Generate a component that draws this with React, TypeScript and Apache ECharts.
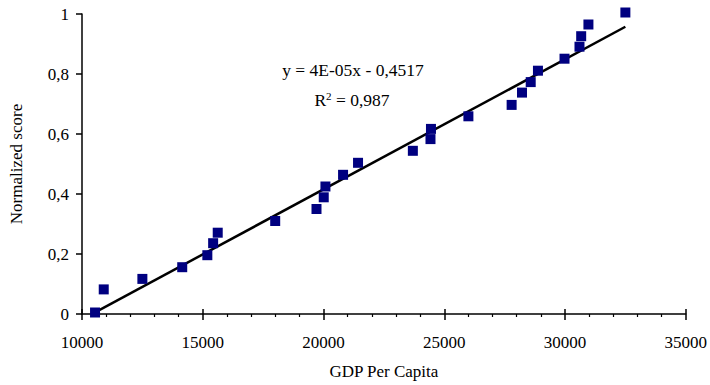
import React, { useEffect, useRef } from "react";
import * as echarts from "echarts";

const gdpPerCapita = [
  10540, 10900, 12500, 14150, 15190, 15430, 15620, 18000, 19710, 20010, 20080,
  20810, 21430, 23700, 24430, 24450, 26000, 27790, 28220, 28580, 28880, 29980,
  30600, 30670, 30970, 32500,
];
const normalizedScore = [
  0.005, 0.082, 0.117, 0.156, 0.196, 0.236, 0.271, 0.31, 0.35, 0.389, 0.425,
  0.464, 0.504, 0.544, 0.583, 0.617, 0.659, 0.697, 0.738, 0.773, 0.811, 0.851,
  0.891, 0.926, 0.965, 1.005,
];
const trendSlope = 4.336e-5;
const trendIntercept = -0.4517;
const equationText = "y = 4E-05x - 0,4517";
const r2Value = "0,987";
const xAxisTitle = "GDP Per Capita";
const yAxisTitle = "Normalized score";

const FONT = "'Liberation Serif', 'Times New Roman', serif";

export default function App() {
  const ref = useRef<HTMLDivElement>(null);
  useEffect(() => {
    if (!ref.current) return;
    const chart = echarts.init(ref.current, undefined, { renderer: "svg" });
    const xMin = Math.min(...gdpPerCapita);
    const xMax = Math.max(...gdpPerCapita);
    const trend = [
      [xMin, trendSlope * xMin + trendIntercept],
      [xMax, trendSlope * xMax + trendIntercept],
    ];
    const scatter = gdpPerCapita.map((g, i) => [g, normalizedScore[i]]);
    const grid = { left: 82, right: 22, top: 14, bottom: 71 };
    chart.setOption({
      animation: false,
      backgroundColor: "#ffffff",
      textStyle: { fontFamily: FONT },
      grid,
      xAxis: [
        {
          type: "value",
          min: 10000,
          max: 35000,
          interval: 5000,
          name: xAxisTitle,
          nameLocation: "middle",
          nameGap: 49,
          nameTextStyle: { fontFamily: FONT, fontSize: 17, color: "#000" },
          axisLine: { lineStyle: { color: "#000", width: 1.5 } },
          axisTick: { inside: false, length: 6, lineStyle: { color: "#000", width: 1.5 } },
          minorTick: { show: true, splitNumber: 5, length: 3, lineStyle: { color: "#000", width: 1.2 } },
          axisLabel: {
            fontFamily: FONT,
            fontSize: 17,
            color: "#000",
            margin: 20,
            formatter: (v: number) => String(v),
          },
          splitLine: { show: false },
        },
        {
          type: "value",
          min: 10000,
          max: 35000,
          interval: 5000,
          position: "bottom",
          axisLine: { show: false },
          axisTick: { inside: true, length: 5, lineStyle: { color: "#000", width: 1.5 } },
          axisLabel: { show: false },
          splitLine: { show: false },
        },
      ],
      yAxis: {
        type: "value",
        min: 0,
        max: 1,
        interval: 0.2,
        name: yAxisTitle,
        nameLocation: "middle",
        nameGap: 57,
        nameTextStyle: { fontFamily: FONT, fontSize: 17, color: "#000" },
        axisLine: { show: true, lineStyle: { color: "#000", width: 1.5 } },
        axisTick: { show: true, inside: false, length: 6, lineStyle: { color: "#000", width: 1.5 } },
        axisLabel: {
          fontFamily: FONT,
          fontSize: 17,
          color: "#000",
          margin: 13,
          formatter: (v: number) => String(Math.round(v * 10) / 10).replace(".", ","),
        },
        splitLine: { show: false },
      },
      series: [
        {
          type: "line",
          data: trend,
          symbol: "none",
          lineStyle: { color: "#000", width: 2.5 },
          z: 3,
        },
        {
          type: "scatter",
          data: scatter,
          symbol: "rect",
          symbolSize: 10,
          clip: false,
          itemStyle: { color: "#000080", opacity: 1 },
          z: 4,
        },
      ],
      graphic: [
        {
          type: "text",
          x: 353,
          y: 70,
          style: {
            text: equationText,
            fontFamily: FONT,
            fontSize: 17.5,
            fill: "#000",
            align: "center",
            verticalAlign: "middle",
          },
        },
        {
          type: "text",
          x: 352,
          y: 100,
          style: {
            text: "{a|R}{s|2}{a| = " + r2Value + "}",
            fontFamily: FONT,
            fontSize: 17.5,
            fill: "#000",
            align: "center",
            verticalAlign: "middle",
            rich: {
              a: { fontFamily: FONT, fontSize: 17.5, fill: "#000", lineHeight: 20 },
              s: { fontFamily: FONT, fontSize: 11, fill: "#000", lineHeight: 20, verticalAlign: "top", padding: [0, 0, 10, 0] },
            },
          },
        },
      ],
    });
    return () => chart.dispose();
  }, []);
  return (
    <div
      ref={ref}
      style={{ position: "fixed", left: 0, top: 0, width: 710, height: 385 }}
    />
  );
}
